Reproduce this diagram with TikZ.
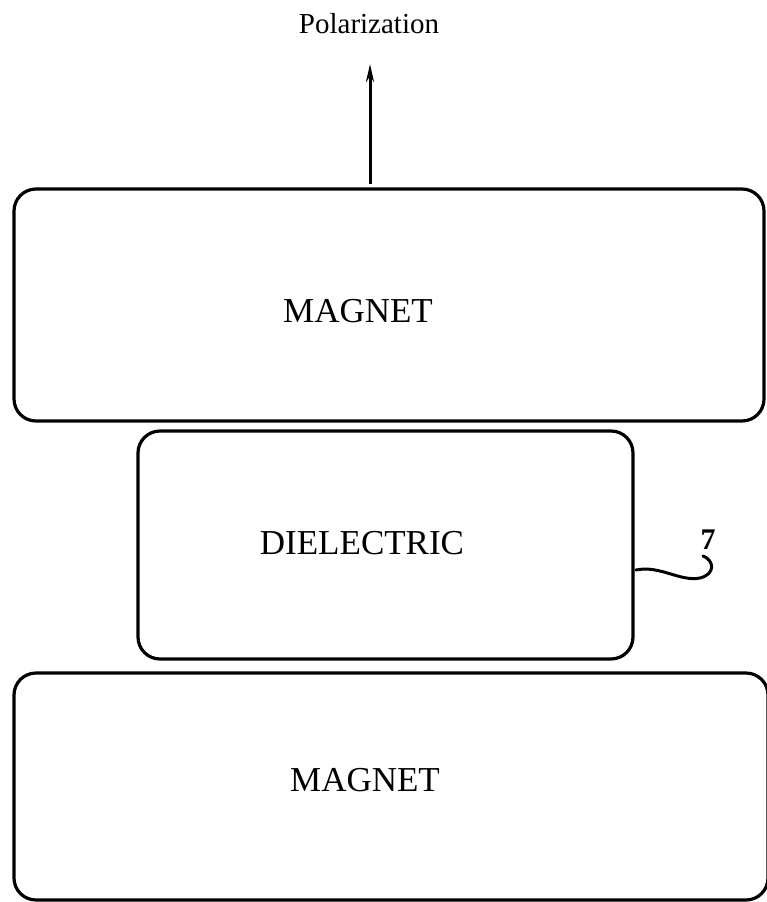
\documentclass[tikz,border=0pt]{standalone}
\usepackage{fontspec}
\setmainfont{Liberation Serif}
\usetikzlibrary{arrows.meta}
\begin{document}
\begin{tikzpicture}[x=1pt,y=-1pt,
  blockbox/.style={draw,line width=3.2pt,rounded corners=22pt,inner sep=0pt},
  bigtext/.style={font=\fontsize{35}{40}\selectfont,inner sep=0pt},
  smalltext/.style={font=\fontsize{29}{34}\selectfont,inner sep=0pt}]
\useasboundingbox (0,0) rectangle (766,902);
% boxes
\node[blockbox,minimum width=750pt,minimum height=232pt] (magtop) at (389,305) {};
\node[blockbox,minimum width=495pt,minimum height=228pt] (diel) at (385.5,545) {};
\node[blockbox,minimum width=754pt,minimum height=227pt] (magbot) at (391,786.5) {};
% texts
\node[bigtext] (tmag) at (358,311) {MAGNET};
\node[bigtext] (tdiel) at (362,543) {DIELECTRIC};
\node[bigtext] (tmagb) at (365,780) {MAGNET};
\node[smalltext] (tpol) at (369,24) {Polarization};
% arrow
\coordinate (abase) at (370,184);
\coordinate (atip) at (370,64);
\draw[line width=3pt,-{Stealth[length=18pt,width=8pt]}] (abase) -- (atip);
% reference numeral
\node[font=\bfseries\fontsize{30}{34}\selectfont,inner sep=0pt] (seven) at (708,540) {7};
\coordinate (lead) at (636,570);
\draw[line width=3pt,line cap=round] (lead) .. controls (660,565) and (680,582) .. (700,578)
  .. controls (716,574) and (714,560) .. (703,556);
\end{tikzpicture}
\end{document}
